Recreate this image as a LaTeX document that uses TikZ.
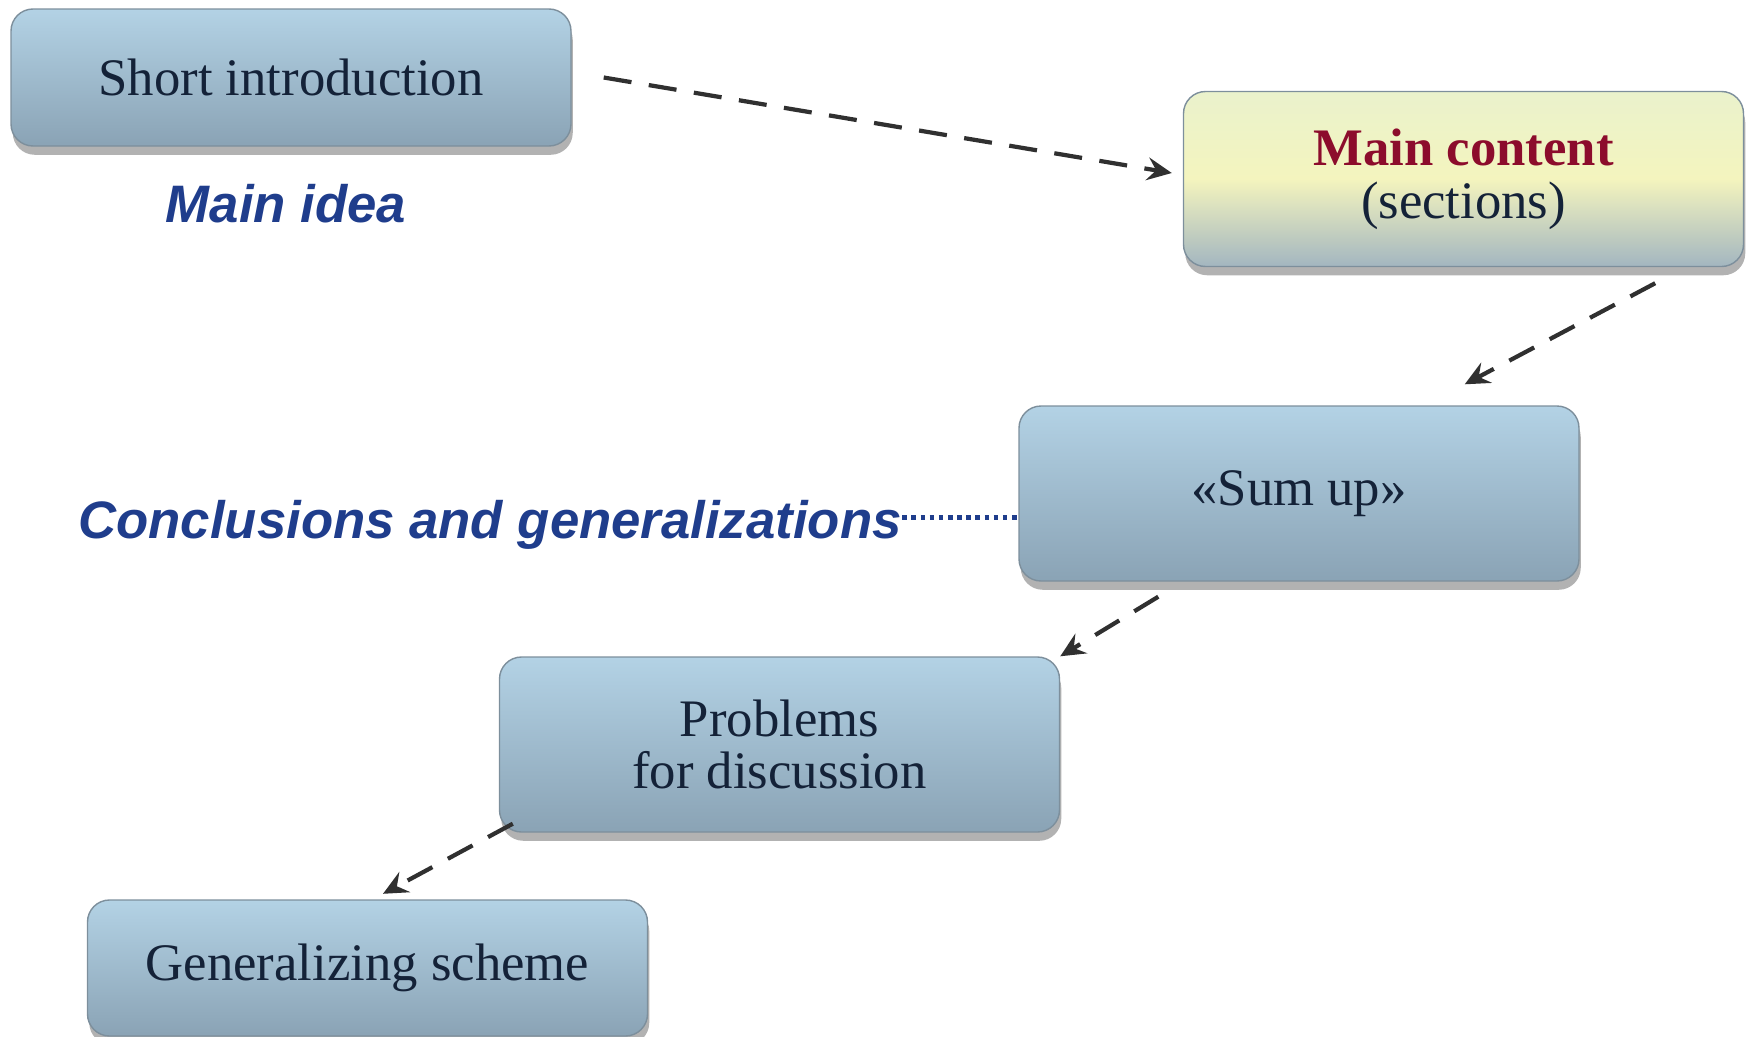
\documentclass[tikz,border=0pt]{standalone}
\usepackage{fontspec}
\setmainfont{Liberation Serif}
\newfontfamily\labelfont{Liberation Sans}
\usetikzlibrary{arrows.meta,positioning,shadows}
\definecolor{boxtop}{HTML}{B3D2E5}
\definecolor{boxbot}{HTML}{8AA3B5}
\definecolor{boxline}{HTML}{7D8F9C}
\definecolor{boxtext}{HTML}{142238}
\definecolor{maintop}{HTML}{EAF2CC}
\definecolor{mainmid}{HTML}{F4F4BE}
\definecolor{mainbot}{HTML}{A3B6C0}
\definecolor{mainred}{HTML}{8C0C2C}
\definecolor{tagblue}{HTML}{1F3D8C}
\definecolor{pilgray}{HTML}{303030}

\begin{document}
\begin{tikzpicture}[node distance=0.3cm, >={Stealth[length=7pt,width=6.5pt,inset=2.5pt]},
  stepbox/.style={rectangle, rounded corners=0.22cm, draw=boxline, thin, top color=boxtop, bottom color=boxbot, minimum width=5.6cm, minimum height=1.75cm, align=center, text=boxtext, font=\fontsize{15}{15}\selectfont, drop shadow={shadow xshift=0.5pt, shadow yshift=-2.5pt, opacity=0.3, fill=black}},
  mainbox/.style={stepbox, top color=maintop, bottom color=mainbot, middle color=mainmid},
  tag/.style={font=\labelfont\bfseries\itshape\fontsize{15}{18}\selectfont, text=tagblue},
  pil/.style={->, line width=1.2pt, draw=pilgray, dash pattern=on 8pt off 5pt}]
  \useasboundingbox (0,0) rectangle (17.52,-10.36);
  \node[stepbox, minimum height=1.37cm] (intro) at (2.91,-0.775) {Short introduction};
  \node[tag, below=0.25cm of intro, xshift=-0.05cm] (idea) {Main idea};
  \node[mainbox] (main) at (14.635,-1.79) {{\color{mainred}\bfseries Main content}\\(sections)};
  \node[stepbox] (sumup) at (12.99,-4.935) {«Sum up»};
  \node[tag, inner xsep=0pt, left=1.16cm of sumup, yshift=-0.31cm] (concl) {Conclusions and generalizations};
  \node[stepbox] (probs) at (7.795,-7.445) {Problems\\for discussion};
  \node[stepbox, minimum height=1.36cm] (scheme) at (3.675,-9.68) {Generalizing scheme};
  \path
   ([xshift=0.32cm]intro.east) edge[pil] ([xshift=-0.11cm,yshift=0.06cm]main.west)
   ([xshift=-0.89cm,yshift=-0.16cm]main.south east) edge[pil] ([xshift=-1.15cm,yshift=0.21cm]sumup.north east)
   ([xshift=1.4cm,yshift=-0.15cm]sumup.south west) edge[pil] (probs.north east)
   ([xshift=0.14cm,yshift=0.09cm]probs.south west) edge[pil] ([xshift=0.155cm,yshift=0.055cm]scheme.north);
  \draw[tagblue, line width=1.3pt, dash pattern=on 1.3pt off 1.3pt] ([yshift=0.07cm]concl.east) -- ([yshift=0.07cm]concl.east -| sumup.west);
\end{tikzpicture}
\end{document}
